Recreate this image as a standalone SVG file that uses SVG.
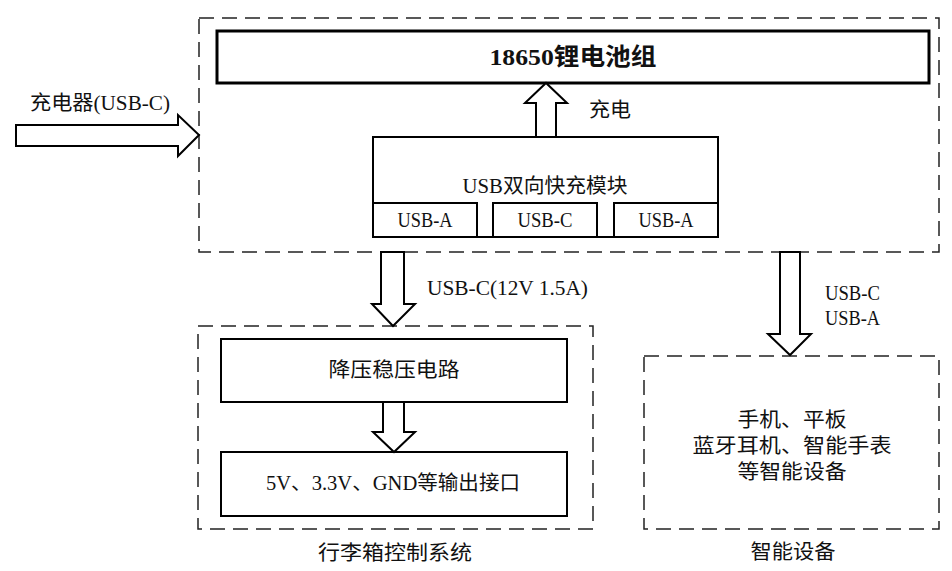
<svg xmlns="http://www.w3.org/2000/svg" width="952" height="571" viewBox="0 0 952 571">
<style>
.bg{fill:#fff}
.dash{fill:none;stroke:#222;stroke-width:1.5;stroke-dasharray:15 8}
.box{fill:#fff;stroke:#000;stroke-width:2}
.thick{fill:#fff;stroke:#000;stroke-width:3}
.arr{fill:#fff;stroke:#000;stroke-width:2;stroke-linejoin:miter}
text{font-family:"Liberation Serif","Noto Sans CJK SC",serif;font-size:20px;fill:#111;text-anchor:middle;dominant-baseline:central}
.l{text-anchor:start}
.b{font-weight:bold;font-size:24px}
</style>
<rect class="bg" width="952" height="571"/>
<g id="power-bank">
<rect class="dash" x="199" y="18" width="740" height="234"/>
</g>
<g id="battery">
<rect class="thick" x="217" y="31" width="712" height="52"/>
<text class="b" x="573" y="57" textLength="167" lengthAdjust="spacingAndGlyphs">18650锂电池组</text>
</g>
<g id="usb-module">
<rect class="box" x="373" y="137" width="345" height="100"/>
<text x="545" y="186" textLength="165" lengthAdjust="spacingAndGlyphs">USB双向快充模块</text>
<rect class="box" x="373" y="203" width="104" height="34"/>
<text x="425" y="220" textLength="55" lengthAdjust="spacingAndGlyphs">USB-A</text>
<rect class="box" x="493" y="203" width="104" height="34"/>
<text x="545" y="220" textLength="55" lengthAdjust="spacingAndGlyphs">USB-C</text>
<rect class="box" x="614" y="203" width="104" height="34"/>
<text x="666" y="220" textLength="55" lengthAdjust="spacingAndGlyphs">USB-A</text>
</g>
<g id="luggage-system">
<rect class="dash" x="198" y="326" width="395" height="203"/>
<text x="395" y="553" textLength="154" lengthAdjust="spacingAndGlyphs">行李箱控制系统</text>
</g>
<g id="buck">
<rect class="box" x="221" y="339" width="346" height="63"/>
<text x="394" y="370" textLength="131" lengthAdjust="spacingAndGlyphs">降压稳压电路</text>
</g>
<g id="outputs">
<rect class="box" x="221" y="452" width="346" height="64"/>
<text x="393" y="483" textLength="254" lengthAdjust="spacingAndGlyphs">5V、3.3V、GND等输出接口</text>
</g>
<g id="smart-devices">
<rect class="dash" x="644" y="356" width="295" height="173"/>
<text x="792" y="420" textLength="109" lengthAdjust="spacingAndGlyphs">手机、平板</text>
<text x="792" y="446" textLength="199" lengthAdjust="spacingAndGlyphs">蓝牙耳机、智能手表</text>
<text x="792" y="472" textLength="109" lengthAdjust="spacingAndGlyphs">等智能设备</text>
<text x="793" y="552" textLength="85" lengthAdjust="spacingAndGlyphs">智能设备</text>
</g>
<g id="connectors">
<polygon class="arr" points="16,125 178,125 178,115 199,135 178,156 178,146 16,146"/>
<text class="l" x="30" y="103" textLength="140" lengthAdjust="spacingAndGlyphs">充电器(USB-C)</text>
<polygon class="arr" points="536,137 536,103 525,103 546,83 567,103 556,103 556,137"/>
<text class="l" x="589" y="110" textLength="42" lengthAdjust="spacingAndGlyphs">充电</text>
<polygon class="arr" points="381,252 404,252 404,304 415,304 393,326 372,304 381,304"/>
<text class="l" x="427" y="288" textLength="161" lengthAdjust="spacingAndGlyphs">USB-C(12V 1.5A)</text>
<polygon class="arr" points="383,402 404,402 404,432 415,432 394,452 373,432 383,432"/>
<polygon class="arr" points="780,252 800,252 800,334 811,334 790,355 768,334 780,334"/>
<text class="l" x="825" y="293" textLength="55" lengthAdjust="spacingAndGlyphs">USB-C</text>
<text class="l" x="825" y="318" textLength="55" lengthAdjust="spacingAndGlyphs">USB-A</text>
</g>
</svg>
